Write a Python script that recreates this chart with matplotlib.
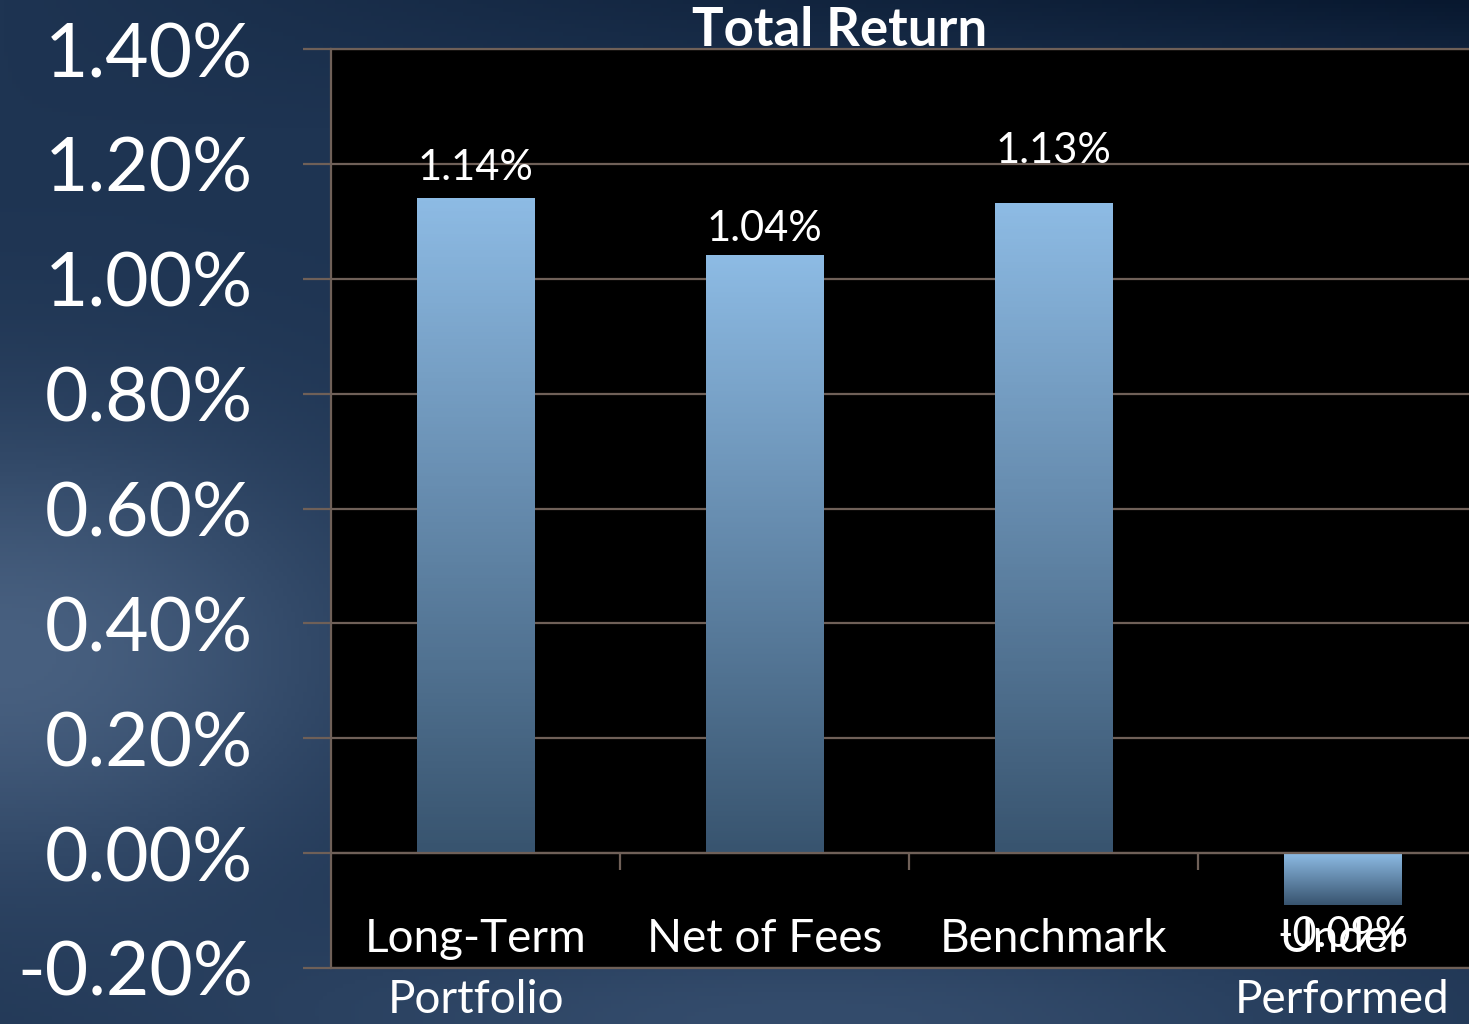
import numpy as np
import matplotlib.pyplot as plt
from matplotlib.colors import LinearSegmentedColormap

plt.rcParams['font.family'] = ['Lato', 'DejaVu Sans']

# Chart data
categories = ['Long-Term\nPortfolio', 'Net of Fees', 'Benchmark', 'Under\nPerformed']
returns = [1.14, 1.04, 1.13, -0.09]
value_labels = ['1.14%', '1.04%', '1.13%', '-0.09%']
y_ticks = [-0.2, 0.0, 0.2, 0.4, 0.6, 0.8, 1.0, 1.2, 1.4]
y_tick_labels = ['-0.20%', '0.00%', '0.20%', '0.40%', '0.60%', '0.80%', '1.00%', '1.20%', '1.40%']

# data labels were placed by hand in the original, offsets in points
label_offsets = [22, 19, 38, -22]

grid_color = '#6f6058'
bar_top = '#8dbbe4'
bar_bottom = '#38546f'

fig = plt.figure(figsize=(14.69, 10.24), dpi=100)

# cloudy dark blue backdrop
h, w = 256, 368
yy, xx = np.mgrid[0:1:h * 1j, 0:1:w * 1j]
img = np.ones((h, w, 3)) * np.array([30, 52, 82]) / 255
light = np.exp(-((xx - 0.0) ** 2 / 0.06 + (yy - 0.64) ** 2 / 0.05))
img += light[..., None] * np.array([42, 44, 46]) / 255
light2 = np.exp(-((xx - 0.55) ** 2 / 0.15 + (yy - 1.0) ** 2 / 0.01))
img += light2[..., None] * np.array([22, 24, 26]) / 255
dark = np.clip(1 - yy * 8, 0, 1) * xx
img -= dark[..., None] * np.array([22, 28, 35]) / 255
img = np.clip(img, 0, 1)
bg = fig.add_axes([0, 0, 1, 1], zorder=-5)
bg.imshow(img, aspect='auto', extent=[0, 1, 0, 1])
bg.axis('off')

ax = fig.add_axes([331 / 1469, 56 / 1024, 1156 / 1469, 919 / 1024])
ax.set_facecolor('black')
x = np.arange(len(categories))

ax.set_yticks(y_ticks)
ax.set_yticklabels(y_tick_labels)
ax.yaxis.grid(True, color=grid_color, lw=1.6)
ax.set_axisbelow(True)

bars = ax.bar(x, returns, width=0.405, color='none', zorder=2)
cmap = LinearSegmentedColormap.from_list('bar', [bar_bottom, bar_top])
grad = np.linspace(0, 1, 200).reshape(-1, 1)
for b in bars:
    x0, y0 = b.get_x(), b.get_y()
    y_lo, y_hi = sorted([y0, y0 + b.get_height()])
    ax.imshow(grad, cmap=cmap, origin='lower', aspect='auto',
              extent=[x0, x0 + b.get_width(), y_lo, y_hi], zorder=2)

ax.set_xlim(-0.5, len(categories) - 0.5)
ax.set_ylim(-0.2, 1.4)

# category axis crosses at zero, ticks between categories
ax.spines['bottom'].set_position(('data', 0))
ax.set_xticks(x[:-1] + 0.5)
ax.set_xticklabels([])
ax.tick_params(axis='x', length=12, width=1.6, color=grid_color, direction='out')
ax.axhline(-0.2, color=grid_color, lw=1.6, clip_on=False)
for s in ['left', 'top', 'bottom']:
    ax.spines[s].set_color(grid_color)
    ax.spines[s].set_linewidth(1.6)
ax.spines['right'].set_visible(False)

ax.tick_params(axis='y', length=20, width=1.6, color=grid_color, pad=36,
               labelsize=54, labelcolor='white')

for xi, cat in zip(x, categories):
    ax.annotate(cat, (xi, 0), xytext=(0, -47), textcoords='offset points',
                ha='center', va='top', fontsize=33, color='white',
                linespacing=1.55, annotation_clip=False)

for xi, val, lbl, off in zip(x, returns, value_labels, label_offsets):
    ax.annotate(lbl, (xi, val), xytext=(0, off), textcoords='offset points',
                ha='center', va='center', fontsize=30, color='white', zorder=4)

fig.text(840 / 1469, 1 - 30 / 1024, 'Total Return', ha='center', va='center',
         fontweight='bold', fontsize=38, color='white')

fig.savefig('out.png', dpi=100)
